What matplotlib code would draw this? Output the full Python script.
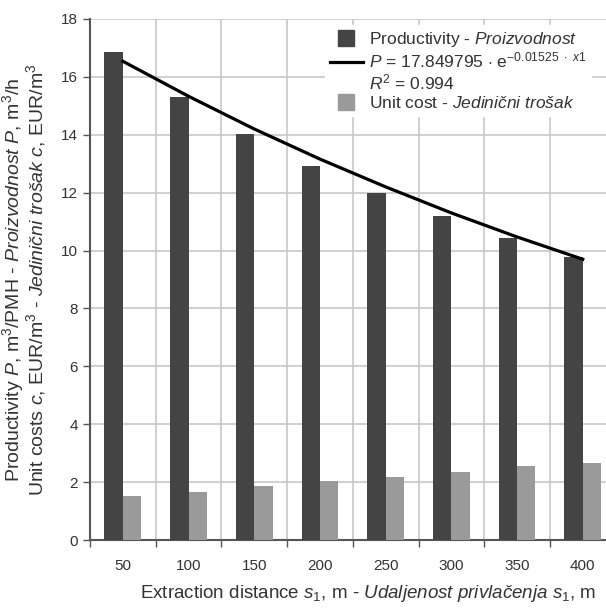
import numpy as np
import matplotlib
matplotlib.use('Agg')
import matplotlib.pyplot as plt
from matplotlib.lines import Line2D

# data
distance = ['50', '100', '150', '200', '250', '300', '350', '400']
productivity = [16.87, 15.32, 14.03, 12.92, 11.98, 11.20, 10.45, 9.77]
unit_cost = [1.53, 1.67, 1.88, 2.03, 2.17, 2.34, 2.56, 2.65]
fit_curve = [16.54, 15.33, 14.20, 13.16, 12.20, 11.30, 10.47, 9.70]

fam = 'Liberation Sans'
plt.rcParams['font.family'] = [fam, 'DejaVu Sans']
plt.rcParams['mathtext.fontset'] = 'custom'
plt.rcParams['mathtext.rm'] = fam
plt.rcParams['mathtext.it'] = fam + ':italic'
plt.rcParams['mathtext.bf'] = fam + ':bold'

dark, light, txt = '#444444', '#9a9a9a', '#333333'

fig = plt.figure(figsize=(6.06, 6.08), dpi=100)
ax = fig.add_axes([90/606, 68/608, 525.6/606, 521/608])

x = np.arange(len(distance))
w = 0.28
ax.bar(x - w/2, productivity, w, color=dark, zorder=3)
ax.bar(x + w/2, unit_cost, w, color=light, zorder=3)
ax.plot(x, fit_curve, color='black', lw=2.3, zorder=4)

ax.set_xlim(-0.5, len(distance) - 0.5)
ax.set_ylim(0, 18)
ax.set_yticks(np.arange(0, 19, 2))
ax.set_xticks(x)
ax.set_xticklabels(distance)
ax.set_xticks(np.arange(-0.5, len(distance), 1.0), minor=True)
ax.tick_params(axis='x', which='major', length=0, labelsize=11, pad=14, labelcolor=txt)
ax.tick_params(axis='x', which='minor', length=5, color='#555555', width=1)
ax.tick_params(axis='y', length=5, color='#555555', width=1, labelsize=11, labelcolor=txt)

ax.grid(True, axis='y', color='#c8c8c8', lw=1.2, zorder=0)
ax.grid(True, axis='x', which='minor', color='#c8c8c8', lw=1.2, zorder=0)
for s in ['top', 'right']:
    ax.spines[s].set_visible(False)
for s in ['left', 'bottom']:
    ax.spines[s].set_color('#555555')
    ax.spines[s].set_linewidth(1.5)

ax.set_xlabel('Extraction distance $\\it{s}_{\\rm{1}}$, m - $\\it{Udaljenost\\ privlačenja}$ $\\it{s}_{\\rm{1}}$, m',
              fontsize=13.5, color=txt)
ax.xaxis.set_label_coords(0.529, -0.082)
ax.set_ylabel('Productivity $\\it{P}$, m$^3$/PMH - $\\it{Proizvodnost}$ $\\it{P}$, m$^3$/h\n'
              'Unit costs $\\it{c}$, EUR/m$^3$ - $\\it{Jedinični\\ trošak}$ $\\it{c}$, EUR/m$^3$',
              fontsize=14, color=txt, linespacing=0.95)
ax.yaxis.set_label_coords(-0.079, 0.5)

handles = [Line2D([0], [0], color='none', marker='s', markersize=12,
                  markerfacecolor=dark, markeredgecolor=dark),
           Line2D([0], [0], color='black', lw=2.3),
           Line2D([0], [0], color='none'),
           Line2D([0], [0], color='none', marker='s', markersize=12,
                  markerfacecolor=light, markeredgecolor=light)]
labels = ['Productivity - $\\it{Proizvodnost}$',
          '$\\it{P}$ = 17.849795 $\\cdot$ e$^{-0.01525\\ \\cdot\\ x1}$',
          '$\\it{R}^2$ = 0.994',
          'Unit cost - $\\it{Jedinični\\ trošak}$']
leg = fig.legend(handles, labels, loc='upper left', bbox_to_anchor=(316/606, 1 - 16/608),
                 frameon=True, fontsize=12.5, handlelength=1.9,
                 handletextpad=0.35, labelspacing=0.12, borderpad=0.3, fancybox=False)
leg.get_frame().set_edgecolor('white')
leg.get_frame().set_facecolor('white')
leg.get_frame().set_alpha(1.0)
for t in leg.get_texts():
    t.set_color(txt)

fig.savefig('out.png', dpi=100)
